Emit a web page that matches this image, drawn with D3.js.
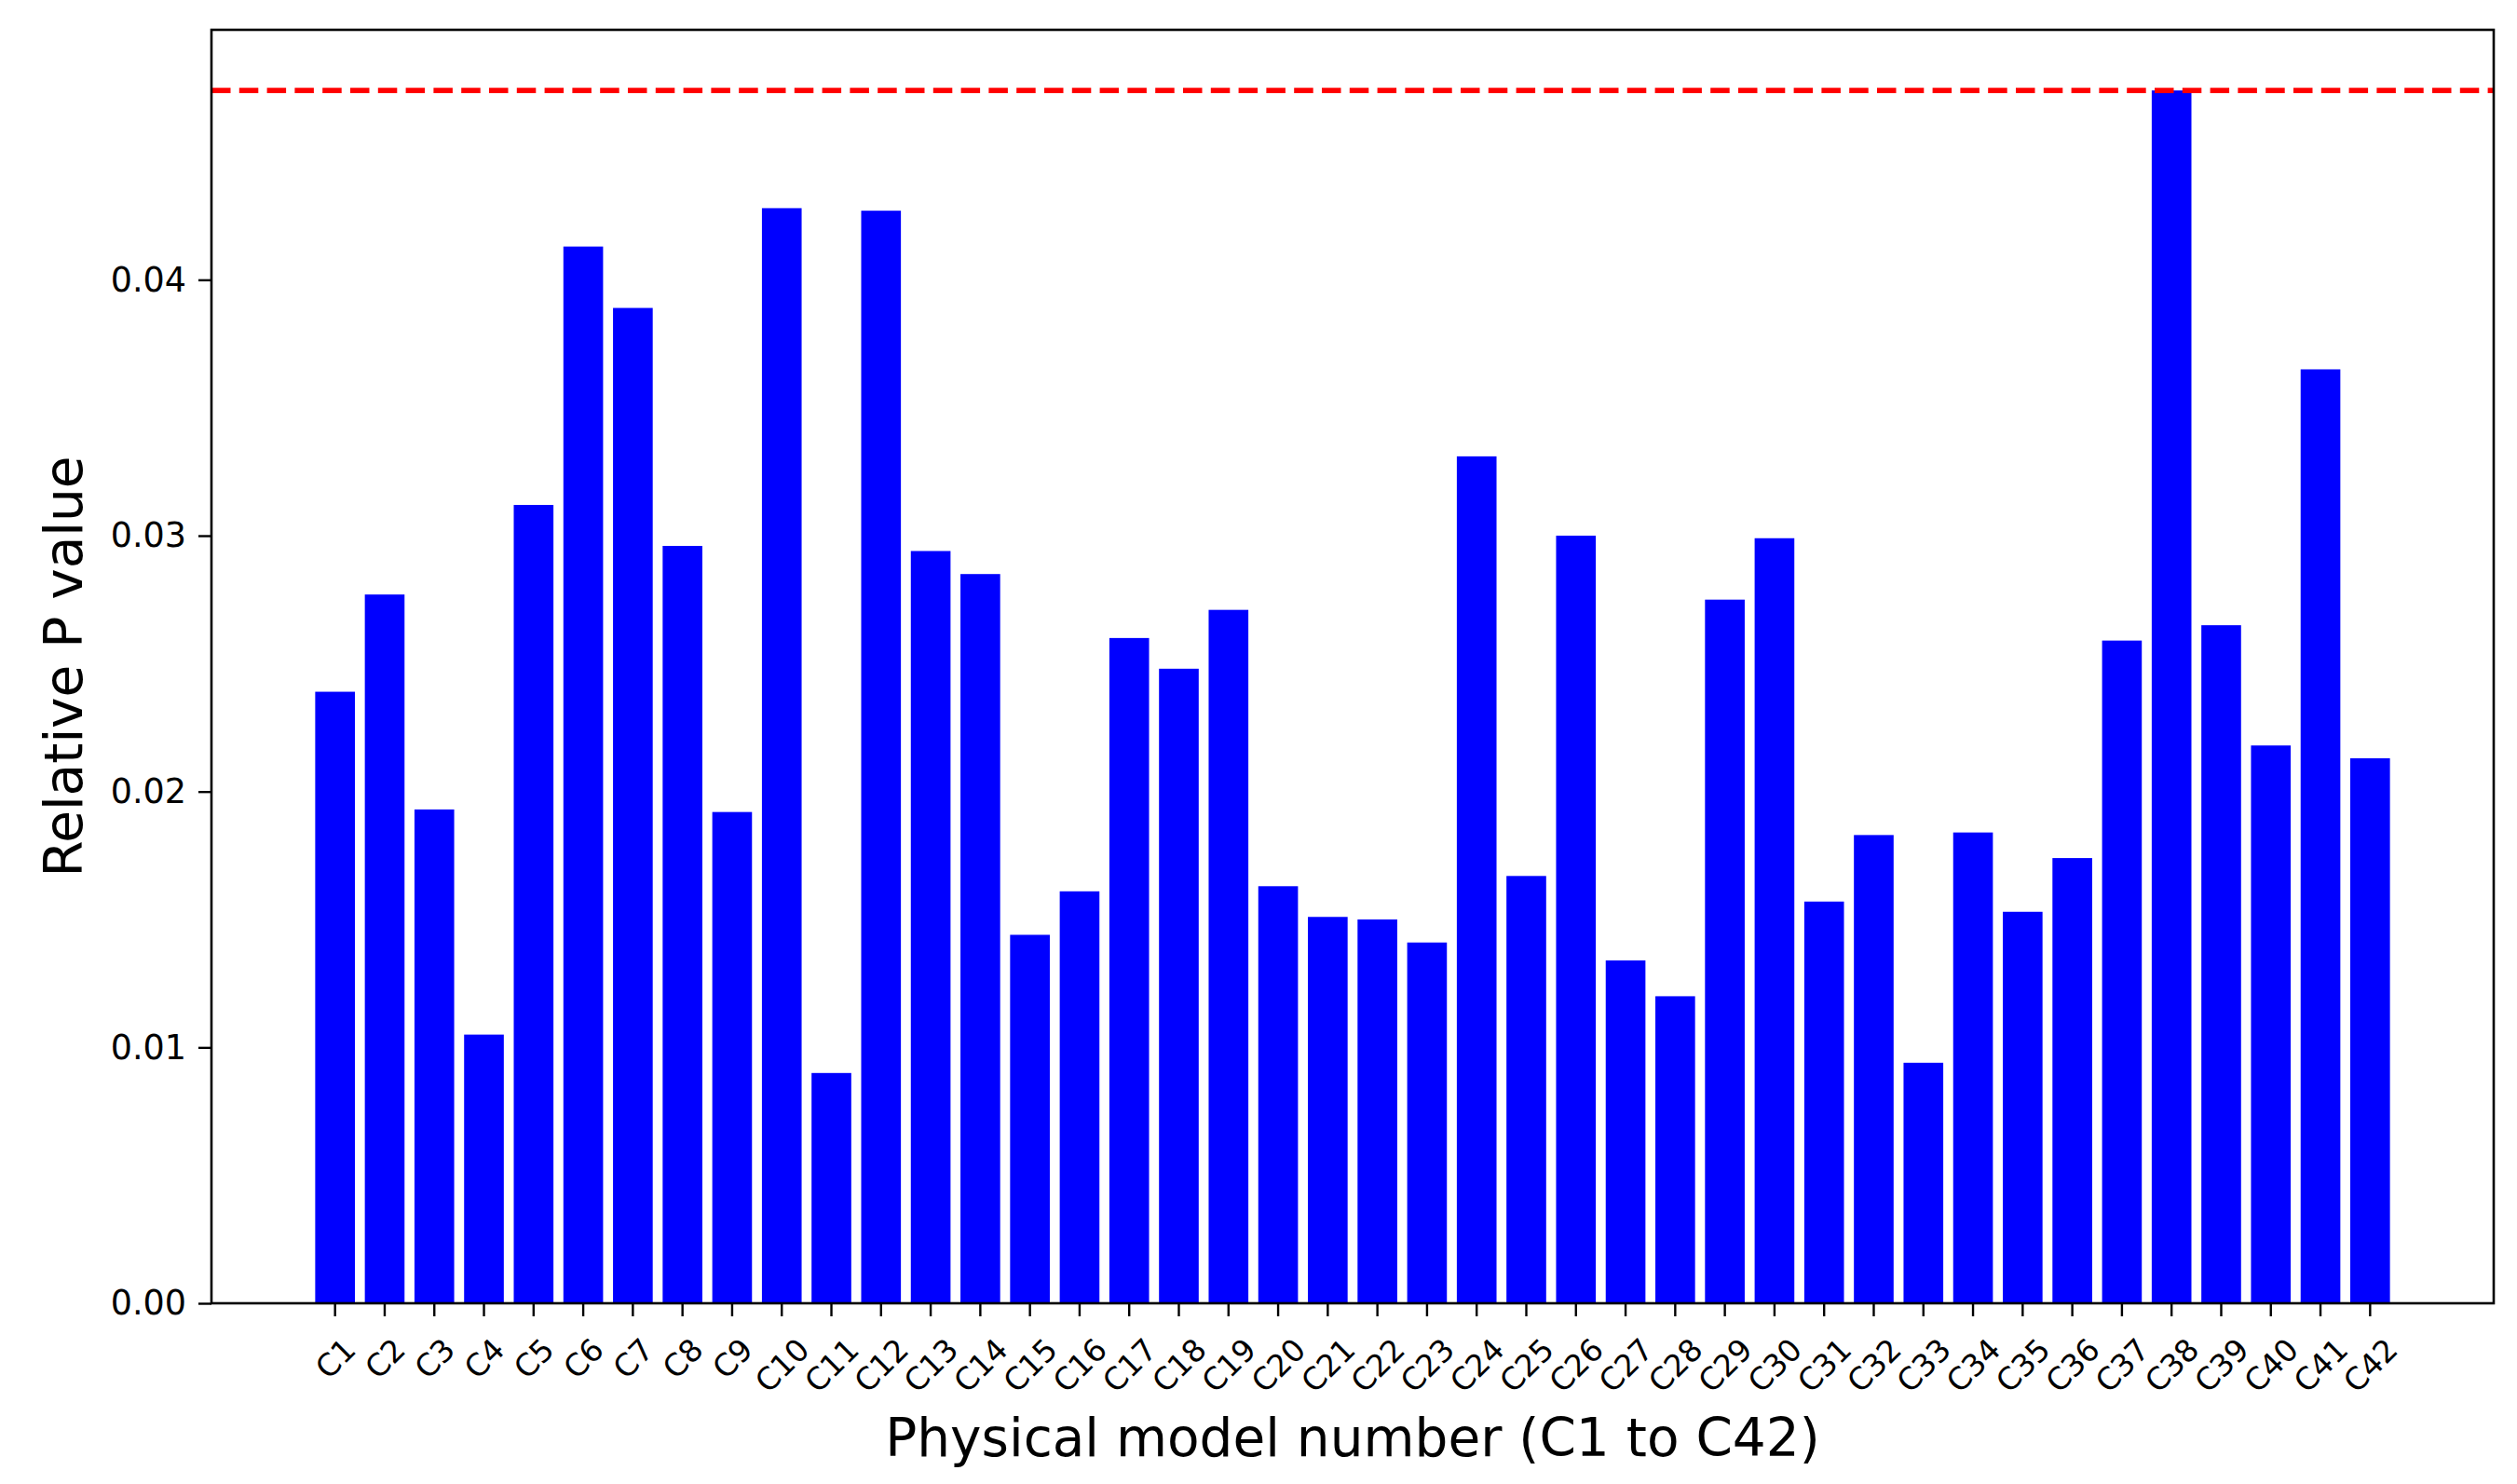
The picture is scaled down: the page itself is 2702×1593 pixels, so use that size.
<!DOCTYPE html>
<html>
<head>
<meta charset="utf-8">
<script src="https://cdn.jsdelivr.net/npm/d3@7"></script>
<style>
  html, body { margin: 0; padding: 0; background: #ffffff; }
  svg { display: block; }
  text { font-family: "DejaVu Sans", sans-serif; fill: #000; }
</style>
</head>
<body>
<script>
// ---- data ----
const categories = ["C1","C2","C3","C4","C5","C6","C7","C8","C9","C10",
  "C11","C12","C13","C14","C15","C16","C17","C18","C19","C20",
  "C21","C22","C23","C24","C25","C26","C27","C28","C29","C30",
  "C31","C32","C33","C34","C35","C36","C37","C38","C39","C40",
  "C41","C42"];
const pValues = [0.0239, 0.0277, 0.0193, 0.0105, 0.0312, 0.0413, 0.0389, 0.0296, 0.0192, 0.0428,
  0.0090, 0.0427, 0.0294, 0.0285, 0.0144, 0.0161, 0.0260, 0.0248, 0.0271, 0.0163,
  0.0151, 0.0150, 0.0141, 0.0331, 0.0167, 0.0300, 0.0134, 0.0120, 0.0275, 0.0299,
  0.0157, 0.0183, 0.0094, 0.0184, 0.0153, 0.0174, 0.0259, 0.0474, 0.0265, 0.0218,
  0.0365, 0.0213];
const thresholdValue = 0.0474;
const yTickValues = [0.00, 0.01, 0.02, 0.03, 0.04];
const xAxisTitle = "Physical model number (C1 to C42)";
const yAxisTitle = "Relative P value";

// ---- layout ----
const W = 2702, H = 1593;
const plot = { left: 227, right: 2677, top: 32, bottom: 1399 };
const tickLen = 14;
const yTickFont = 36.5, xTickFont = 33, titleFont = 56.5;

const svg = d3.select("body").append("svg")
  .attr("width", W).attr("height", H)
  .attr("viewBox", `0 0 ${W} ${H}`);
svg.append("rect").attr("width", W).attr("height", H).attr("fill", "#fff");

const x = d3.scaleBand()
  .domain(categories)
  .range([plot.left, plot.right])
  .paddingInner(0.2)
  .paddingOuter(2.09);

const yMax = d3.max(pValues) * 1.05;
const y = d3.scaleLinear().domain([0, yMax]).range([plot.bottom, plot.top]);

// bars
svg.append("g").selectAll("rect")
  .data(categories.map((c, i) => ({ c, v: pValues[i] })))
  .join("rect")
  .attr("x", d => x(d.c))
  .attr("width", x.bandwidth())
  .attr("y", d => y(d.v))
  .attr("height", d => y(0) - y(d.v))
  .attr("fill", "#0000ff");

// threshold line
svg.append("line")
  .attr("x1", plot.left).attr("x2", plot.right)
  .attr("y1", y(thresholdValue)).attr("y2", y(thresholdValue))
  .attr("stroke", "#ff0000")
  .attr("stroke-width", 5.8)
  .attr("stroke-dasharray", "20.5 9.3");

// frame
svg.append("rect")
  .attr("x", plot.left).attr("y", plot.top)
  .attr("width", plot.right - plot.left).attr("height", plot.bottom - plot.top)
  .attr("fill", "none").attr("stroke", "#000").attr("stroke-width", 2.6);

// y axis
const yAxis = d3.axisLeft(y).tickValues(yTickValues).tickFormat(d3.format(".2f"))
  .tickSize(tickLen).tickPadding(13);
const gy = svg.append("g").attr("transform", `translate(${plot.left},0)`).call(yAxis);
gy.select(".domain").remove();
gy.selectAll(".tick line").attr("stroke", "#000").attr("stroke-width", 2.4);
gy.selectAll(".tick text")
  .attr("font-size", yTickFont)
  .attr("font-family", "DejaVu Sans")
  .attr("fill", "#000");

// x axis
const xAxis = d3.axisBottom(x).tickSize(tickLen).tickPadding(10);
const gx = svg.append("g").attr("transform", `translate(0,${plot.bottom})`).call(xAxis);
gx.select(".domain").remove();
gx.selectAll(".tick line").attr("stroke", "#000").attr("stroke-width", 2.4);
const inkTop = plot.bottom + 36;
gx.selectAll(".tick text")
  .attr("font-size", xTickFont)
  .attr("font-family", "DejaVu Sans")
  .attr("fill", "#000")
  .attr("text-anchor", "middle")
  .attr("y", null)
  .attr("dy", (0.365 * xTickFont) + "px")
  .each(function () {
    const w = this.getComputedTextLength() - 0.1 * xTickFont;
    const h = 0.73 * xTickFont;
    const half = (w + h) / (2 * Math.SQRT2);
    d3.select(this).attr("transform", `translate(0,${inkTop - plot.bottom + half}) rotate(-45)`);
  });

// axis titles
svg.append("text")
  .attr("x", (plot.left + plot.right) / 2)
  .attr("y", 1563)
  .attr("text-anchor", "middle")
  .attr("font-size", titleFont)
  .text(xAxisTitle);

svg.append("text")
  .attr("transform", `translate(87.5,${(plot.top + plot.bottom) / 2}) rotate(-90)`)
  .attr("text-anchor", "middle")
  .attr("font-size", titleFont)
  .text(yAxisTitle);
</script>
</body>
</html>
